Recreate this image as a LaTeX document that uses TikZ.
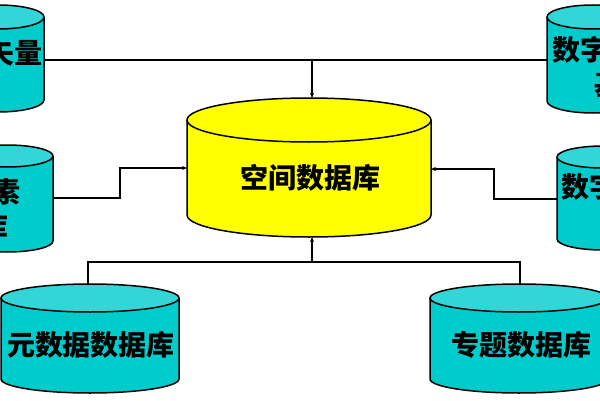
\documentclass[tikz,border=0pt]{standalone}
\usepackage{fontspec}
\newfontfamily\cjk{Noto Sans CJK SC}
\usetikzlibrary{arrows.meta}
\definecolor{cybody}{RGB}{0,204,204}
\definecolor{cytop}{RGB}{51,214,214}
\definecolor{ybody}{RGB}{255,255,0}
\newcommand\mycyl[7]{%
  \fill[#6] ({#1-#4},#2) -- ({#1-#4},#3) arc[start angle=180,end angle=360,x radius=#4pt,y radius=#5pt] -- ({#1+#4},#2) -- cycle;
  \draw[cylline] ({#1-#4},#2) -- ({#1-#4},#3) arc[start angle=180,end angle=360,x radius=#4pt,y radius=#5pt] -- ({#1+#4},#2);
  \filldraw[cylline,fill=#7] (#1,#2) ellipse[x radius=#4pt,y radius=#5pt];
}
\begin{document}
\begin{tikzpicture}[x=1pt,y=1pt,
  cylline/.style={line width=1.5pt,black},
  conn/.style={line width=1.4pt,black},
  arr/.style={conn,-{Stealth[length=5pt,width=4pt]}},
  lbl/.style={font=\cjk\bfseries\fontsize{28}{32}\selectfont,inner sep=0pt,text=black}]
\useasboundingbox (0,0) rectangle (600,400);
\clip (0,0) rectangle (600,400);
\fill[white] (0,0) rectangle (600,400);
% cylinders: cx, Ytop, Ybot, rx, ry, body, top
\mycyl{-2}{383}{300}{46}{12}{cybody}{cytop}
\mycyl{593}{383}{299}{46}{12}{cybody}{cytop}
\mycyl{7}{244}{159}{46}{11}{cybody}{cytop}
\mycyl{603}{243}{161}{46}{11}{cybody}{cytop}
\mycyl{309}{280}{185}{122}{22}{ybody}{ybody}
\mycyl{90}{102}{21}{89}{14}{cybody}{cytop}
\mycyl{519}{102}{21}{89}{14}{cybody}{cytop}
% labels
\node[lbl,anchor=east] (tl) at (43,347) {矢量};
\node[lbl,anchor=west] (tr1) at (552,350) {数字高程};
\node[lbl,anchor=west] (tr2) at (594,315) {基础};
\node[lbl,anchor=east] (ml1) at (21,208) {要素};
\node[lbl,anchor=east] (ml2) at (9,173) {据库};
\node[lbl,anchor=west] (mr1) at (561,213) {数字};
\node[lbl] (center) at (310,222) {空间数据库};
\node[lbl] (bl) at (91,55) {元数据数据库};
\node[lbl] (br) at (521,55) {专题数据库};
% connection points
\coordinate (tlR) at (44,340);
\coordinate (trL) at (547,340);
\coordinate (topJ) at (312,340);
\coordinate (cTop) at (312,302);
\coordinate (cBot) at (312,163);
\coordinate (cL) at (187,232);
\coordinate (cR) at (431,231);
\coordinate (mlR) at (53,202);
\coordinate (mrL) at (557,201);
\coordinate (botJ) at (312,138);
\coordinate (blT) at (88,116);
\coordinate (brT) at (520,116);
% connectors
\draw[conn] (tlR) -- (trL);
\draw[arr] (topJ) -- (cTop);
\draw[arr] (mlR) -- (120,202) -- (120,232) -- (cL);
\draw[arr] (mrL) -- (494,201) -- (494,231) -- (cR);
\draw[conn] (blT) |- (botJ) -| (brT);
\draw[arr] (botJ) -- (cBot);
\end{tikzpicture}
\end{document}
